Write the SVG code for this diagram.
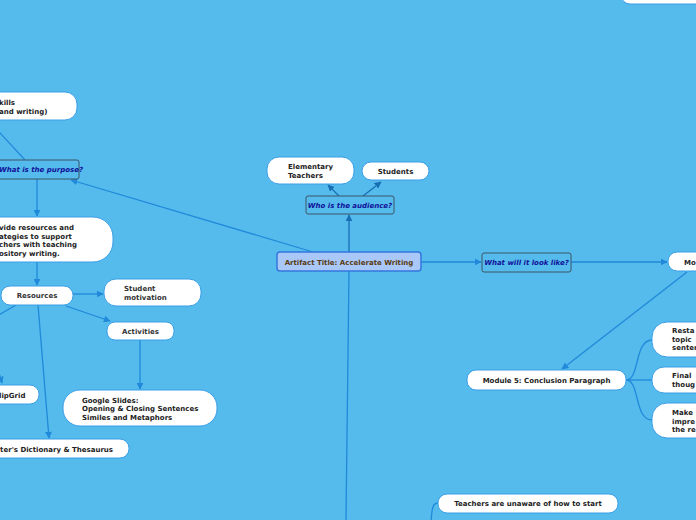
<svg xmlns="http://www.w3.org/2000/svg" width="696" height="520" viewBox="0 0 696 520">
<style>
text{font-family:"DejaVu Sans",Verdana,sans-serif;font-weight:bold;font-size:7px;fill:#222}
.w{fill:#fff;stroke:#3a9ee6;stroke-width:1}
.q{fill:#54bbec;stroke:#3d5566;stroke-width:1}
.qt{font-style:italic;fill:#12129a}
.c{fill:none;stroke:#2189da;stroke-width:1.3}
.d{fill:none;stroke:#1a6fb4;stroke-width:1.3}
.m{text-anchor:middle}
</style>
<defs>
<marker id="a" viewBox="0 0 10 10" refX="9" refY="5" markerWidth="7" markerHeight="7" orient="auto" markerUnits="userSpaceOnUse"><path d="M0,0 L10,5 L0,10 z" fill="#2189da"/></marker>
<marker id="b" viewBox="0 0 10 10" refX="9" refY="5" markerWidth="7" markerHeight="7" orient="auto" markerUnits="userSpaceOnUse"><path d="M0,0 L10,5 L0,10 z" fill="#1a6fb4"/></marker>
</defs>
<rect width="696" height="520" fill="#54bbec"/>
<g id="connectors">
<path class="d" d="M349,252 L349,215" marker-end="url(#b)"/>
<path class="d" d="M339,196 L328,185" marker-end="url(#b)"/>
<path class="d" d="M363,196 L381,182" marker-end="url(#b)"/>
<path class="c" d="M313,252 L71,180" marker-end="url(#a)"/>
<path class="c" d="M-10,122 L25,160"/>
<path class="c" d="M37,179 L37,216" marker-end="url(#a)"/>
<path class="c" d="M37,262 L37,285" marker-end="url(#a)"/>
<path class="c" d="M73,294 L103,294" marker-end="url(#a)"/>
<path class="c" d="M66,306 L110,321" marker-end="url(#a)"/>
<path class="c" d="M140,340 L140,389" marker-end="url(#a)"/>
<path class="c" d="M38,305 L49,438" marker-end="url(#a)"/>
<path class="c" d="M16,305 L-10,320"/>
<path class="c" d="M-3,366 L2,383" marker-end="url(#a)"/>
<path class="c" d="M421,262 L481,262" marker-end="url(#a)"/>
<path class="c" d="M571,262 L667,262" marker-end="url(#a)"/>
<path class="c" d="M687,272 L562,369" marker-end="url(#a)"/>
<path class="c" d="M626,380 C640,380 634,340 652,340"/>
<path class="c" d="M626,380 L652,380"/>
<path class="c" d="M626,380 C640,380 634,420 652,420"/>
<path class="c" d="M349,271 L346,520"/>
<path class="c" d="M431,522 C432,510 432,503 438,503"/>
</g>
<g id="center"><rect x="277" y="252" width="144" height="19" rx="3" fill="#a9c8f7" stroke="#3377dd" stroke-width="1.5"/><text x="349" y="264.5" class="m" style="fill:#5a3a12">Artifact Title: Accelerate Writing</text></g>
<g id="audience"><rect class="q" x="306" y="196" width="88" height="18" rx="2"/><text class="qt m" x="350" y="207.5">Who is the audience?</text></g>
<g id="elementary"><rect class="w" x="267" y="157" width="87" height="27" rx="12"/><text x="288" y="169">Elementary</text><text x="288" y="178">Teachers</text></g>
<g id="students"><rect class="w" x="362" y="162" width="67" height="18" rx="9"/><text class="m" x="395.5" y="173.5">Students</text></g>
<g id="purpose"><rect class="q" x="-8" y="160" width="87" height="19" rx="2"/><text class="qt" x="-1" y="172">What is the purpose?</text></g>
<g id="skills"><rect class="w" x="-40" y="92" width="117" height="28" rx="12"/><text x="-1" y="105">kills</text><text x="-1" y="114">and writing)</text></g>
<g id="provide"><rect class="w" x="-40" y="217" width="153" height="45" rx="20"/><text x="-1" y="230">vide resources and</text><text x="-1" y="238.5">ategies to support</text><text x="-1" y="247">chers with teaching</text><text x="-1" y="255.5">ository writing.</text></g>
<g id="resources"><rect class="w" x="1" y="286" width="72" height="19" rx="9"/><text class="m" x="37" y="298" style="fill:#333">Resources</text></g>
<g id="motivation"><rect class="w" x="104" y="279" width="97" height="27" rx="12"/><text x="124" y="291" style="fill:#333">Student</text><text x="124" y="299.5" style="fill:#333">motivation</text></g>
<g id="activities"><rect class="w" x="107" y="322" width="67" height="18" rx="8"/><text class="m" x="140.5" y="334" style="fill:#333">Activities</text></g>
<g id="google"><rect class="w" x="63" y="390" width="154" height="36" rx="17"/><text x="82" y="403">Google Slides:</text><text x="82" y="411">Opening &amp; Closing Sentences</text><text x="82" y="419.5">Similes and Metaphors</text></g>
<g id="flipgrid"><rect class="w" x="-30" y="385" width="69" height="19" rx="9"/><text x="-1" y="398">lipGrid</text></g>
<g id="dictionary"><rect class="w" x="-40" y="439" width="169" height="19" rx="9"/><text x="113" y="451.5" style="text-anchor:end">ter's Dictionary &amp; Thesaurus</text></g>
<g id="lookslike"><rect class="q" x="482" y="253" width="89" height="19" rx="2"/><text class="qt m" x="526.5" y="265">What will it look like?</text></g>
<g id="module"><rect class="w" x="668" y="252" width="60" height="19" rx="9"/><text x="684" y="264.5">Mo</text></g>
<g id="module5"><rect class="w" x="467" y="370" width="159" height="20" rx="9"/><text class="m" x="546.5" y="382.5">Module 5: Conclusion Paragraph</text></g>
<g id="restate"><rect class="w" x="652" y="322" width="70" height="35" rx="15"/><text x="672" y="333">Resta</text><text x="672" y="341.5">topic</text><text x="672" y="350">senter</text></g>
<g id="final"><rect class="w" x="652" y="367" width="70" height="26" rx="12"/><text x="672" y="378">Final</text><text x="672" y="386.5">thoug</text></g>
<g id="impression"><rect class="w" x="652" y="403" width="70" height="35" rx="15"/><text x="672" y="415">Make</text><text x="672" y="423.5">impre</text><text x="672" y="432">the re</text></g>
<g id="teachers"><rect class="w" x="438" y="494" width="180" height="19" rx="9"/><text class="m" x="528" y="506">Teachers are unaware of how to start</text></g>
<g id="topright"><rect class="w" x="621" y="-20" width="90" height="24" rx="9"/></g>
</svg>
